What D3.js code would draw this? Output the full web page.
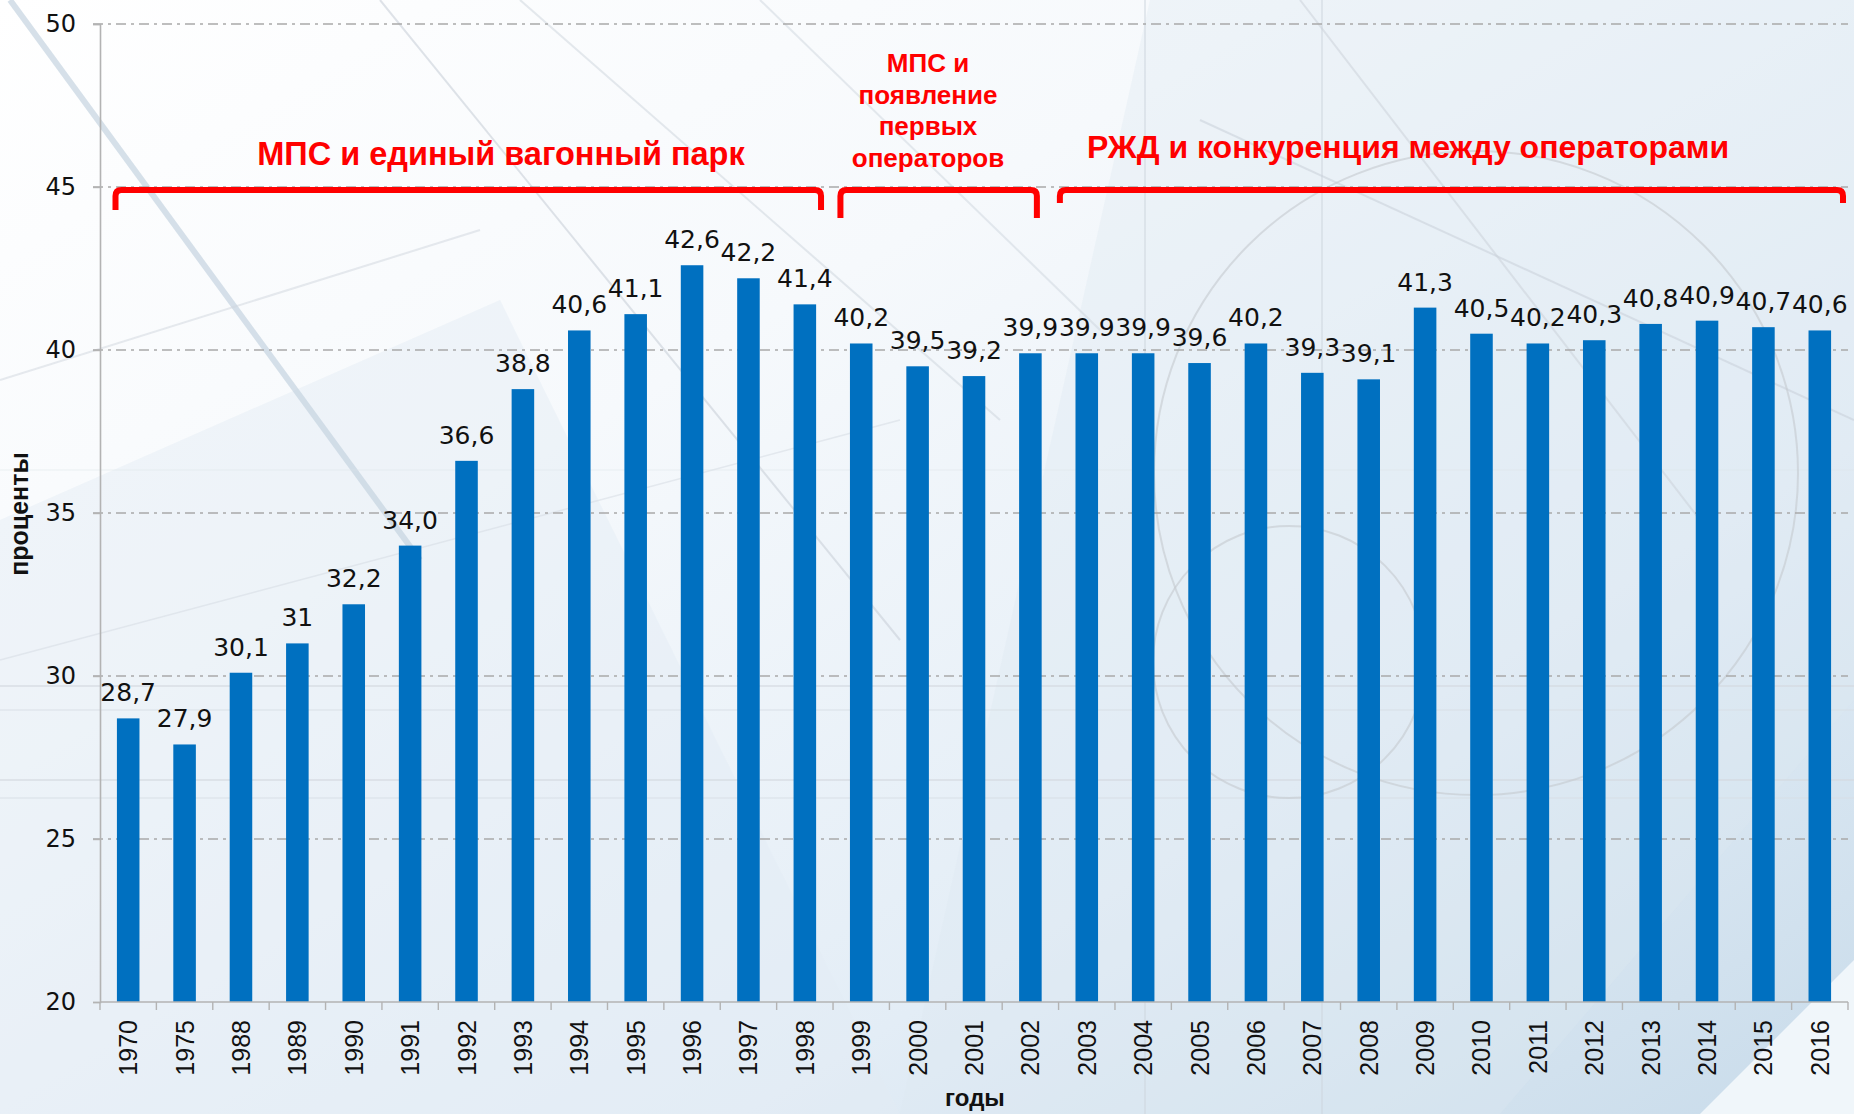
<!DOCTYPE html>
<html>
<head>
<meta charset="utf-8">
<script src="https://cdn.jsdelivr.net/npm/d3@7"></script>
<style>
  html, body { margin: 0; padding: 0; background: #ffffff; }
  svg { display: block; }
</style>
</head>
<body>
<svg id="chart" width="1854" height="1114"></svg>
<script>
// ---- data ----
const years = ["1970","1975","1988","1989","1990","1991","1992","1993","1994","1995","1996","1997","1998",
  "1999","2000","2001","2002","2003","2004","2005","2006","2007","2008","2009","2010","2011","2012","2013","2014","2015","2016"];
const values = [28.7,27.9,30.1,31,32.2,34.0,36.6,38.8,40.6,41.1,42.6,42.2,41.4,
  40.2,39.5,39.2,39.9,39.9,39.9,39.6,40.2,39.3,39.1,41.3,40.5,40.2,40.3,40.8,40.9,40.7,40.6];
const valueLabels = ["28,7","27,9","30,1","31","32,2","34,0","36,6","38,8","40,6","41,1","42,6","42,2","41,4",
  "40,2","39,5","39,2","39,9","39,9","39,9","39,6","40,2","39,3","39,1","41,3","40,5","40,2","40,3","40,8","40,9","40,7","40,6"];
const yTicks = [20,25,30,35,40,45,50];
const yTitle = "проценты";
const xTitle = "годы";
const periodLines = [["МПС и единый вагонный парк"], ["МПС и","появление","первых","операторов"], ["РЖД и конкуренция между операторами"]];
const periodStart = ["1970","1999","2003"];
const periodEnd = ["1998","2002","2016"];

(function () {
const W = 1854, H = 1114;
const svg = d3.select("#chart");
const pL = 100, pR = 1848, pT = 24, pB = 1002;

// background
const defs = svg.append("defs");
const bg = defs.append("linearGradient").attr("id","bg").attr("x1","0").attr("y1","0").attr("x2","1").attr("y2","1");
bg.append("stop").attr("offset","0").attr("stop-color","#ffffff");
bg.append("stop").attr("offset","0.35").attr("stop-color","#f6f9fc");
bg.append("stop").attr("offset","0.7").attr("stop-color","#e3edf6");
bg.append("stop").attr("offset","1").attr("stop-color","#c8dbea");
svg.append("rect").attr("width",W).attr("height",H).attr("fill","url(#bg)");

const deco = svg.append("g").attr("fill","none");
deco.append("path").attr("d","M1150,0 L1854,0 L1854,700 L1500,1114 L900,1114 Z").attr("fill","#dde8f2").attr("opacity",0.35);
deco.append("path").attr("d","M0,520 L500,300 L900,1114 L0,1114 Z").attr("fill","#e2ecf5").attr("opacity",0.45);
deco.append("path").attr("d","M1700,1114 L1854,960 L1854,1114 Z").attr("fill","#f4f8fc").attr("opacity",0.9);
const dl = [
  [10,0,420,560,6,"#c5d3df",0.7],[380,0,900,640,2,"#c9d1d9",0.6],[520,0,1000,420,2,"#ccd4dc",0.5],
  [0,380,480,230,2,"#cfd6dd",0.5],[0,660,900,420,1.5,"#d3dae1",0.5],[760,0,1100,330,2,"#cdd5dd",0.5],
  [1145,0,1145,1114,2,"#cdd5dd",0.5],[1322,0,1322,1114,2,"#cdd5dd",0.5],
  [1200,120,1854,420,2,"#c9d0d8",0.55],[1300,0,1700,520,2,"#c9d0d8",0.5],
  [0,686,1854,686,2,"#d3d9df",0.6],[0,710,1854,710,1.5,"#d6dce2",0.6],[0,780,1854,780,2,"#d3d9df",0.6],[0,798,1854,798,1.5,"#d6dce2",0.6],
  [0,470,1854,470,1,"#dde3e9",0.5]
];
dl.forEach(d => deco.append("line").attr("x1",d[0]).attr("y1",d[1]).attr("x2",d[2]).attr("y2",d[3])
  .attr("stroke",d[5]).attr("stroke-width",d[4]).attr("opacity",d[6]));
deco.append("circle").attr("cx",1476).attr("cy",473).attr("r",322).attr("stroke","#c4c9cf").attr("stroke-width",2).attr("opacity",0.6);
deco.append("circle").attr("cx",1289).attr("cy",662).attr("r",136).attr("stroke","#c4c9cf").attr("stroke-width",2).attr("opacity",0.6);

// scales
const x = d3.scaleBand().domain(years).range([pL, pR]).paddingInner(0.6).paddingOuter(0.3);
const y = d3.scaleLinear().domain([20, 50]).range([pB, pT]);
const step = x.step();

// gridlines
svg.append("g").selectAll("line").data(yTicks.filter(t => t > 20)).join("line")
  .attr("x1", pL - 7).attr("x2", pR).attr("y1", d => y(d)).attr("y2", d => y(d))
  .attr("stroke","#a9a9a9").attr("stroke-width",1.4).attr("stroke-dasharray","10,5,3,5");

// y axis
const yAxis = svg.append("g").attr("transform",`translate(${pL},0)`)
  .call(d3.axisLeft(y).tickValues(yTicks).tickSize(7).tickPadding(17).tickFormat(d3.format("d")));
yAxis.select(".domain").attr("stroke","#b3b3b3").attr("stroke-width",1.6);
yAxis.selectAll(".tick line").attr("stroke","#b3b3b3").attr("stroke-width",1.4);
yAxis.selectAll(".tick text").attr("font-family","DejaVu Sans").attr("font-size",24).attr("fill","#111");

// bars
svg.append("g").selectAll("rect").data(values).join("rect")
  .attr("x",(d,i) => x(years[i])).attr("width", x.bandwidth())
  .attr("y", d => y(d)).attr("height", d => y(20) - y(d))
  .attr("fill","#0070c0");

// x axis
const xAxisG = svg.append("g");
xAxisG.append("line").attr("x1",pL).attr("x2",pR).attr("y1",pB).attr("y2",pB)
  .attr("stroke","#b3b3b3").attr("stroke-width",1.6);
xAxisG.selectAll("line.tk").data(d3.range(years.length + 1)).join("line").attr("class","tk")
  .attr("x1", i => pL + i * step).attr("x2", i => pL + i * step)
  .attr("y1", pB).attr("y2", pB + 8).attr("stroke","#b3b3b3").attr("stroke-width",1.4);
xAxisG.selectAll("text").data(years).join("text")
  .attr("transform", d => `translate(${x(d) + x.bandwidth()/2},${pB + 18}) rotate(-90)`)
  .attr("text-anchor","end").attr("dy","0.36em")
  .attr("font-family","Liberation Sans, Arial, sans-serif").attr("font-size",25).attr("fill","#111")
  .text(d => d);

// value labels
svg.append("g").selectAll("text").data(values).join("text")
  .attr("x",(d,i) => x(years[i]) + x.bandwidth()/2).attr("y", d => y(d) - 17)
  .attr("text-anchor","middle").attr("font-family","DejaVu Sans").attr("font-size",25).attr("fill","#111")
  .text((d,i) => valueLabels[i]);

// axis titles
svg.append("text").attr("transform","translate(28,514) rotate(-90)").attr("text-anchor","middle")
  .attr("font-family","Liberation Sans, Arial, sans-serif").attr("font-weight","bold").attr("font-size",25).attr("fill","#111")
  .text(yTitle);
svg.append("text").attr("x",975).attr("y",1106).attr("text-anchor","middle")
  .attr("font-family","Liberation Sans, Arial, sans-serif").attr("font-weight","bold").attr("font-size",24).attr("fill","#111")
  .text(xTitle);

// period brackets
const bStart = [15.5, 7.4, 1.3];
const bEnd = [-12, -21.7, -5];
const bBottom = [210, 218, 203];
const bTop = 190, rad = 6;
const red = "#ff0000";
const ann = svg.append("g");
periodStart.forEach((s, k) => {
  const x1 = x(s) - x.paddingOuter() * step + bStart[k];
  const x2 = x(periodEnd[k]) + x.bandwidth() + x.paddingOuter() * step + bEnd[k];
  const yb = bBottom[k];
  ann.append("path")
    .attr("d", `M${x1},${yb} L${x1},${bTop + rad} Q${x1},${bTop} ${x1 + rad},${bTop} L${x2 - rad},${bTop} Q${x2},${bTop} ${x2},${bTop + rad} L${x2},${yb}`)
    .attr("fill","none").attr("stroke",red).attr("stroke-width",6).attr("stroke-linejoin","round");
});
const txtCx = [501, 928, 1408];
const txtBase = [165, 72, 158];
const txtSize = [32.5, 26, 32];
const txtLH = 31.7;
periodLines.forEach((lines, k) => {
  const t = ann.append("text").attr("text-anchor","middle")
    .attr("font-family","Liberation Sans, Arial, sans-serif").attr("font-weight","bold")
    .attr("font-size", txtSize[k]).attr("fill", red);
  lines.forEach((ln, j) => t.append("tspan").attr("x", txtCx[k]).attr("y", txtBase[k] + j * txtLH).text(ln));
});
})();
</script>
</body>
</html>
